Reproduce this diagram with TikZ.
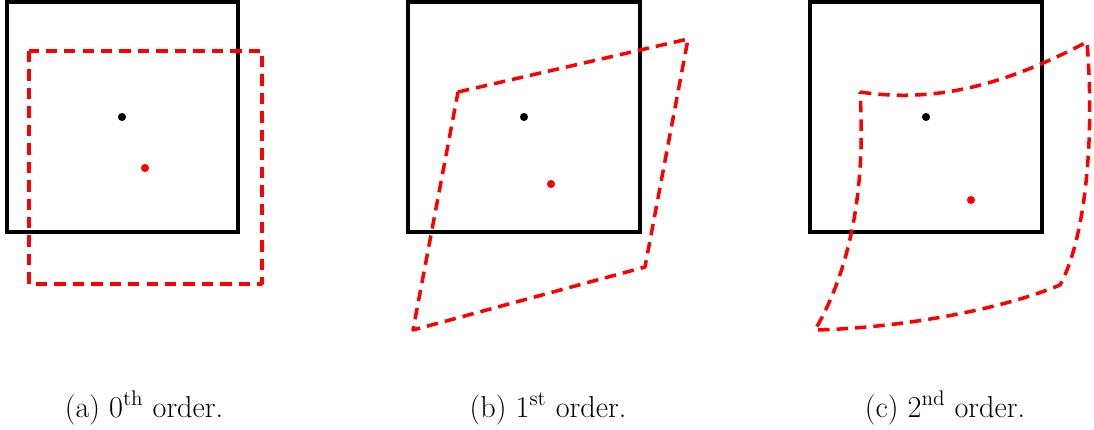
\documentclass[tikz,border=0pt]{standalone}
\begin{document}
\begin{tikzpicture}[x=0.02cm,y=-0.02cm,
  frame/.style={draw=black,line width=2pt},
  warp/.style={draw=red,line width=2pt,dash pattern=on 6.5pt off 4pt,line join=round},
  dotb/.style={fill=black},
  dotr/.style={fill=red},
  captext/.style={font=\fontsize{17.2}{20}\selectfont,anchor=base}]
\useasboundingbox (0,0) rectangle (1094,429);
% (a)
\draw[frame] (7,2) rectangle (238,232);
\draw[warp] (29,51) rectangle (262,284);
\fill[dotb] (122,117) circle (2.3pt);
\fill[dotr] (145,168) circle (2.3pt);
\node[captext] (ca) at (144,417) {(a) 0\textsuperscript{th} order.};
% (b)
\draw[frame] (408,2) rectangle (640,232);
\draw[warp] (458,92) -- (688,39) -- (645,267) -- (413,330) -- cycle;
\fill[dotb] (524,117) circle (2.3pt);
\fill[dotr] (551,184) circle (2.3pt);
\node[captext] (cb) at (548,417) {(b) 1\textsuperscript{st} order.};
% (c)
\draw[frame] (810,2) rectangle (1042,232);
\draw[warp] (860,92) .. controls (940,104) and (1010,82) .. (1087,42)
  .. controls (1095,140) and (1085,240) .. (1060,285)
  .. controls (1000,310) and (900,328) .. (815,330)
  .. controls (850,270) and (866,190) .. cycle;
\fill[dotb] (926,117) circle (2.3pt);
\fill[dotr] (971,200) circle (2.3pt);
\node[captext] (cc) at (945,417) {(c) 2\textsuperscript{nd} order.};
\end{tikzpicture}
\end{document}
